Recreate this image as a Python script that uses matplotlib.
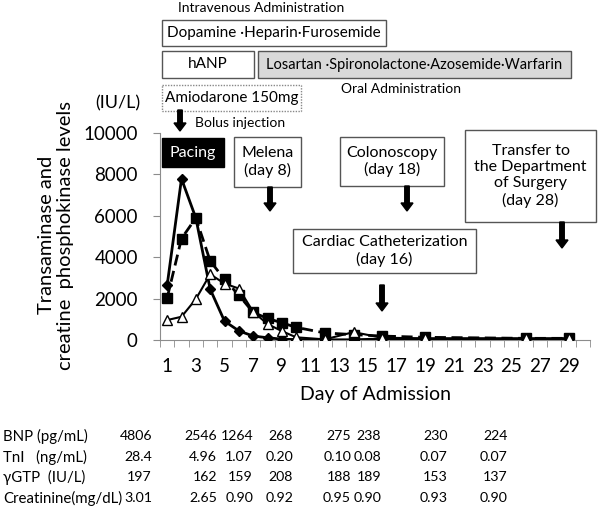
import numpy as np
import matplotlib
matplotlib.use('Agg')
import matplotlib.pyplot as plt
from matplotlib.patches import Rectangle, FancyArrow

plt.rcParams['font.family'] = ['Lato', 'Noto Sans CJK JP', 'DejaVu Sans']

# days of admission on which the lab values were sampled
days = [1, 2, 3, 4, 5, 6, 7, 8, 9, 10, 12, 14, 16, 19, 26, 29]
ast_vals = [2640, 7770, 5880, 2450, 910, 440, 190, 110, 40, 20, 10, 10, 50, 50, 50, 50]
alt_vals = [2030, 4890, 5880, 3810, 2920, 2160, 1330, 1040, 830, 610, 340, 260, 190, 130, 80, 80]
ck_vals = [960, 1120, 1970, 3170, 2720, 2480, 1360, 770, 430, 130, 30, 380, 110, 80, 80, 80]

xtick_days = list(range(1, 30, 2))
ytick_vals = [0, 2000, 4000, 6000, 8000, 10000]

# lab table under the chart
row_labels = ['BNP (pg/mL)', 'TnI   (ng/mL)', '\u03b3GTP  (IU/L)', 'Creatinine(mg/dL)']
bnp = ['4806', '2546', '1264', '268', '275', '238', '230', '224']
tni = ['28.4', '4.96', '1.07', '0.20', '0.10', '0.08', '0.07', '0.07']
ggtp = ['197', '162', '159', '208', '188', '189', '153', '137']
creat = ['3.01', '2.65', '0.90', '0.92', '0.95', '0.90', '0.93', '0.90']
table_rows = [bnp, tni, ggtp, creat]

W, H = 600, 515
fig = plt.figure(figsize=(W / 100, H / 100), dpi=100)

# main axes, placed in pixel terms
L, R, T, B = 160, 590, 132.5, 340
ax = fig.add_axes([L / W, 1 - B / H, (R - L) / W, (B - T) / H])
ax.plot(days, ast_vals, color='black', lw=2, marker='D', ms=5, zorder=3)
ax.plot(days, alt_vals, color='black', lw=2, ls=(0, (4, 2)), marker='s', ms=7, zorder=2)
ax.plot(days, ck_vals, color='black', lw=1.5, marker='^', ms=7, mfc='white', mec='black', zorder=4)

ax.set_xlim(0.5, 30.5)
ax.set_ylim(0, 10000)
ax.set_xticks(xtick_days)
ax.set_xticks(np.arange(0.5, 31, 1), minor=True)
ax.set_yticks(ytick_vals)
ax.tick_params(axis='x', which='major', length=0, labelsize=13.5, pad=13)
ax.tick_params(axis='x', which='minor', length=5, color='#8c8c8c', direction='out')
ax.tick_params(axis='y', length=5, color='#8c8c8c', labelsize=13.5, pad=11)
for s in ['top', 'right']:
    ax.spines[s].set_visible(False)
for s in ['left', 'bottom']:
    ax.spines[s].set_color('#8c8c8c')
ax.set_xlabel('Day of Admission', fontsize=14, labelpad=8)

fig.text(56 / W, 1 - 235 / H, 'Transaminase and\ncreatine  phosphokinase levels',
         rotation=90, ha='center', va='center', fontsize=14.5, linespacing=1.1)

# overlay for annotations in pixel coordinates
ov = fig.add_axes([0, 0, 1, 1], zorder=5)
ov.set_xlim(0, W)
ov.set_ylim(H, 0)
ov.axis('off')
ov.patch.set_alpha(0)


def box(x0, x1, y0, y1, text, fc='white', ec='#555555', ls='-', tc='black', fs=11.5, lw=1):
    ov.add_patch(Rectangle((x0, y0), x1 - x0, y1 - y0, fc=fc, ec=ec, ls=ls, lw=lw))
    ov.text((x0 + x1) / 2, (y0 + y1) / 2, text, ha='center', va='center',
            fontsize=fs, color=tc, linespacing=1.2)


def arrow(x, y0, y1):
    ov.add_patch(FancyArrow(x, y0, 0, y1 - y0, width=4.5, head_width=12,
                            head_length=8, length_includes_head=True,
                            fc='black', ec='black'))


ov.text(261, 8, 'Intravenous Administration', ha='center', va='center', fontsize=10)
box(162, 386, 20, 46, 'Dopamine \u00b7Heparin\u00b7Furosemide', fs=11)
box(162, 254, 51, 78, 'hANP', fs=11)
box(258, 571, 51, 78, 'Losartan \u00b7Spironolactone\u00b7Azosemide\u00b7Warfarin',
    fc='#d9d9d9', fs=10.5)
ov.text(401, 89, 'Oral Administration', ha='center', va='center', fontsize=10)
box(162, 301, 85, 111, 'Amiodarone 150mg', ec='#888888', ls=(0, (1, 1)), fs=11)
arrow(180, 110, 131)
ov.text(195, 123, 'Bolus injection', ha='left', va='center', fontsize=10)
ov.text(140, 103, '(IU/L)', ha='right', va='center', fontsize=13)

box(162, 224, 138, 167, 'Pacing', fc='black', ec='black', tc='white', fs=11.5)
box(234, 301, 137, 187, 'Melena\n(day 8)', fs=11.5)
arrow(270, 187, 211)
box(340, 444, 137, 186, 'Colonoscopy\n(day 18)', fs=11.5)
arrow(407, 186, 211)
box(293, 476, 229, 273, 'Cardiac Catheterization\n(day 16)', fs=11.5)
arrow(382, 285, 311)
box(465, 596, 130, 222, 'Transfer to\nthe Department\nof Surgery\n(day 28)', fs=11.5)
arrow(562, 222, 248)

# lab table
row_y = [436, 457, 477, 498]
col_x = [152, 217, 253, 293, 351, 381, 448, 508]
for yy, lab, vals in zip(row_y, row_labels, table_rows):
    ov.text(3, yy, lab, ha='left', va='center', fontsize=10.8)
    for xx, v in zip(col_x, vals):
        ov.text(xx, yy, v, ha='right', va='center', fontsize=10.2)

fig.savefig('out.png', dpi=100)
